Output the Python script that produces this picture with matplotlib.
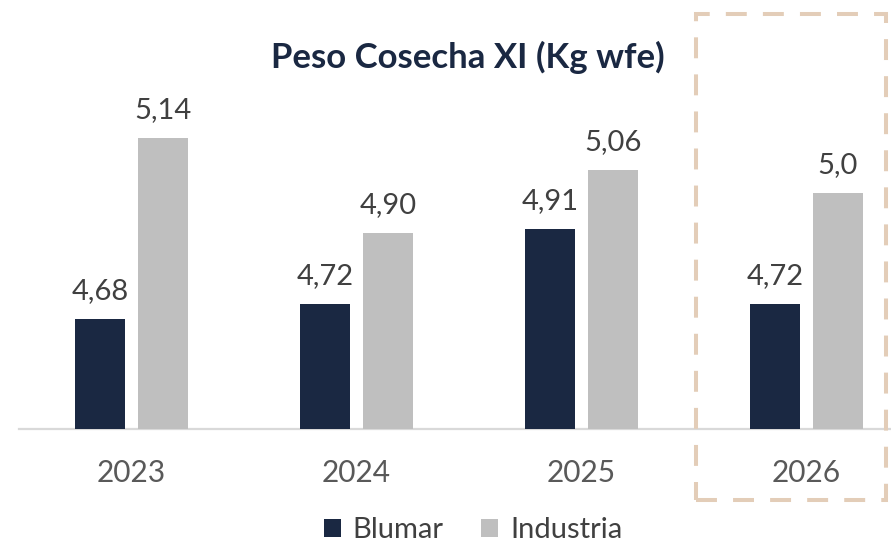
import matplotlib
matplotlib.use("Agg")
import matplotlib.pyplot as plt
from matplotlib.patches import Rectangle
import numpy as np

plt.rcParams['font.family'] = ['Lato', 'DejaVu Sans']

# Data
years = ["2023", "2024", "2025", "2026"]
blumar = [4.68, 4.72, 4.91, 4.72]
industria = [5.14, 4.90, 5.06, 5.0]
blumar_labels = ["4,68", "4,72", "4,91", "4,72"]
industria_labels = ["5,14", "4,90", "5,06", "5,0"]

NAVY = "#1A2842"
GRAY = "#BFBFBF"
TEXT = "#404040"
YEAR_TXT = "#595959"
BOX = "#E3CDB8"

W, H = 891, 545
fig = plt.figure(figsize=(W / 100, H / 100), dpi=100)

# axes in pixel layout: left 19px, baseline at y=429.5
ax = fig.add_axes([19 / W, (H - 429.5) / H, 1 - 19 / W, 429.5 / H])
ymin = 4.40
ax.set_ylim(ymin, ymin + 429.5 / 393.5)
ax.set_xlim(-0.5, -0.5 + (W - 19) / 225)

x = np.arange(len(years))
bw = 50 / 225
off = 31.5 / 225
b1 = ax.bar(x - off, np.array(blumar) - ymin, bottom=ymin, width=bw, color=NAVY, label="Blumar")
b2 = ax.bar(x + off, np.array(industria) - ymin, bottom=ymin, width=bw, color=GRAY, label="Industria")

for xs, vals, labs in ((x - off, blumar, blumar_labels), (x + off, industria, industria_labels)):
    for xi, v, lab in zip(xs, vals, labs):
        ax.annotate(lab, (xi, v), xytext=(0, 14.4), textcoords="offset points",
                    ha="center", va="baseline", fontsize=21, color=TEXT)

for s in ax.spines.values():
    s.set_visible(False)
ax.axhline(ymin, color="#D9D9D9", lw=1.6, zorder=0, clip_on=False)
ax.set_xticks([])
ax.set_yticks([])
ax.patch.set_alpha(0)

# year labels under the baseline
for xi, yr in zip(x, years):
    px = 19 + (xi + 0.5) * 225
    fig.text(px / W, (H - 482) / H, yr, ha="center", va="baseline",
             fontsize=21.5, color=YEAR_TXT)

# title
fig.text(468 / W, (H - 68) / H, "Peso Cosecha XI (Kg wfe)", ha="center", va="baseline",
         fontsize=25, fontweight="bold", color=NAVY)

# highlight box around the projected year
box = Rectangle((696 / W, (H - 500) / H), (886 - 696) / W, (500 - 14) / H,
                transform=fig.transFigure, fill=False, edgecolor=BOX, lw=2.9,
                linestyle=(0, (5.2, 4.0)), joinstyle="miter")
fig.patches.append(box)

# legend
fig.legend(handles=[b1, b2], loc="lower center", bbox_to_anchor=(473 / W, -0.045),
           ncol=2, frameon=False, fontsize=21, handlelength=0.58, handleheight=0.58,
           handletextpad=0.4, columnspacing=1.3, labelcolor=TEXT)

fig.savefig("out.png", dpi=100)
